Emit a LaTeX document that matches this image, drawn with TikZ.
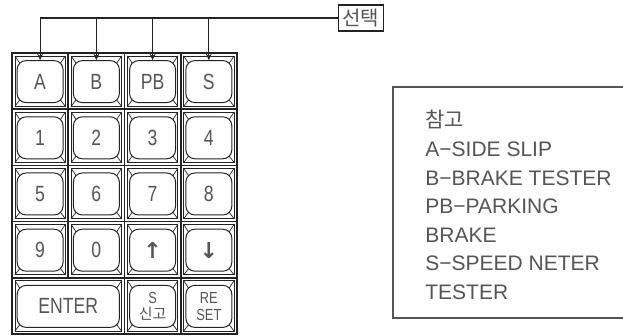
\documentclass[tikz,border=0pt]{standalone}
\usepackage{fontspec}
\setmainfont{Liberation Sans}
\newfontfamily\kr{Noto Sans CJK KR}
\newfontfamily\keyfont[FakeStretch=0.8]{Liberation Sans}
\newfontfamily\symfont{DejaVu Sans Bold}
\usetikzlibrary{arrows.meta,positioning,calc}
\definecolor{ink}{RGB}{35,35,35}
\definecolor{pencil}{RGB}{85,85,85}
\tikzset{
  >={Stealth[length=3.2pt,width=3pt]},
  cell/.style={draw=ink,line width=0.8pt},
  inner frame/.style={draw=ink,line width=0.35pt},
  bevel/.style={draw=ink,line width=0.35pt},
  key/.style={draw=ink,line width=0.5pt,rounded corners=4.5pt,minimum width=#1,
    minimum height=21pt,inner sep=0pt,text=pencil,font=\keyfont\fontsize{11}{11}\selectfont},
  key/.default=23pt,
  small key/.style={key,align=center,font=\keyfont\fontsize{8}{8.6}\selectfont},
  bus/.style={draw=ink,line width=0.6pt},
  tagbox/.style={draw=ink,line width=0.6pt,inner sep=2pt,text=pencil,font=\kr\fontsize{10}{10}\selectfont},
  note frame/.style={draw=pencil,line width=0.9pt},
  note/.style={inner sep=0pt,text=pencil,font=\fontsize{10.5}{12}\selectfont},
}

\begin{document}
\begin{tikzpicture}[x=0.5pt,y=-0.5pt]
  \useasboundingbox (0,0) rectangle (623,336);
  % keypad, four rows of four keys
  \foreach \t [count=\i from 0] in {A,B,PB,S,1,2,3,4,5,6,7,8,9,0,{\symfont ↑},{\symfont ↓}}{
    \pgfmathsetmacro\cx{12+56.25*mod(\i,4)}
    \pgfmathsetmacro\cy{53+56.2*floor(\i/4)}
    \begin{scope}[shift={(\cx,\cy)}]
      \draw[cell] (0,0) rectangle (56.25,56.2);
      \draw[inner frame] (3,3) rectangle (53.25,53.2);
      \node[key] (k\i) at (28.1,28.6) {\t};
      \draw[bevel] (3,3) -- (7.8,10.3) (53.25,3) -- (48.4,10.3)
        (3,53.2) -- (7.8,46.9) (53.25,53.2) -- (48.4,46.9);
    \end{scope}
  }
  % bottom row
  \foreach \t/\x/\w/\s [count=\i from 16] in {ENTER/12/112.5/key,{S\\[-1pt]{\kr\fontsize{7.5}{7.5}\selectfont 신고}}/124.5/56.25/small key,{RE\\SET}/180.75/56.25/small key}{
    \begin{scope}[shift={(\x,277.8)}]
      \draw[cell] (0,0) rectangle (\w,56.2);
      \draw[inner frame] (3,3) rectangle (\w-3,53.2);
      \node[\s,minimum width=(\w-10.25)*0.5pt] (k\i) at (\w/2,28.6) {\t};
      \draw[bevel] (3,3) -- (7.8,10.3) (\w-3,3) -- (\w-7.8,10.3)
        (3,53.2) -- (7.8,46.9) (\w-3,53.2) -- (\w-7.8,46.9);
    \end{scope}
  }
  \draw[line width=1pt,draw=ink] (12,53) rectangle (237,334);

  % selection bus
  \node[tagbox] (sel) at (361,18) {선택};
  \draw[bus,->] (sel.west) -| (k0.north);
  \foreach \k in {1,2,3}
    \draw[bus,->] (k\k.north |- sel.west) -- (k\k.north);

  % notes
  \draw[note frame] (623,87) -- (393,87) -- (393,318) -- (623,318);
  \foreach \t [count=\i from 0] in {{\kr 참고},A−SIDE SLIP,B−BRAKE TESTER,PB−PARKING,BRAKE,S−SPEED NETER,TESTER}
    \node[note,anchor=base west] (n\i) at (425,128+28.6*\i) {\t};
\end{tikzpicture}
\end{document}
